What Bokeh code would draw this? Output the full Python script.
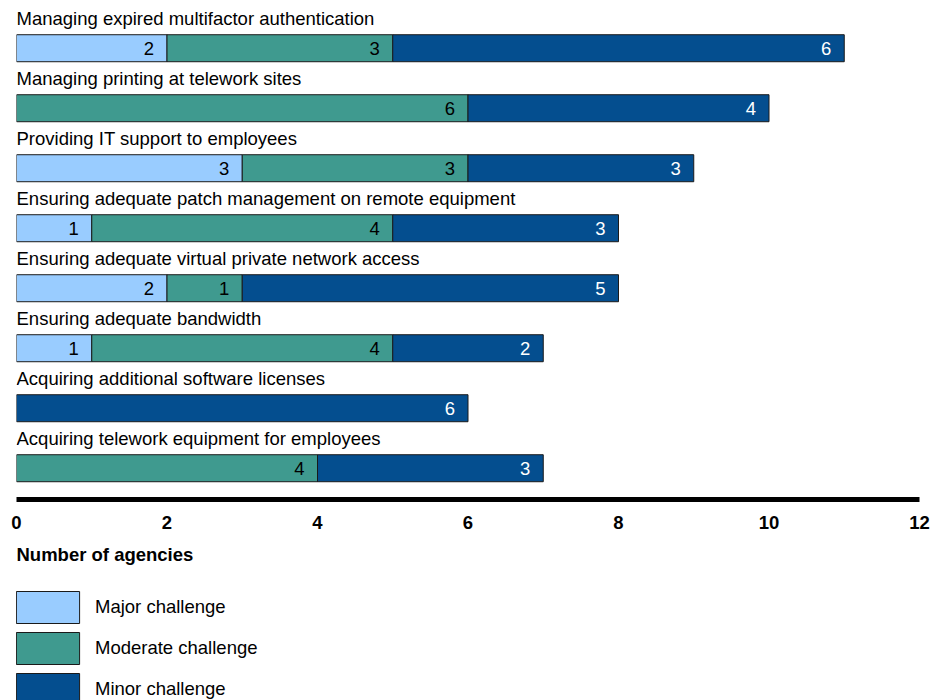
import numpy as np
from bokeh.plotting import figure
from bokeh.layouts import column
from bokeh.models import ColumnDataSource, Range1d, FixedTicker, Legend, LegendItem
from bokeh.core.properties import value
from bokeh.embed import file_html
from bokeh.resources import INLINE

# ---------------- data ----------------
categories = [
    "Managing expired multifactor authentication",
    "Managing printing at telework sites",
    "Providing IT support to employees",
    "Ensuring adequate patch management on remote equipment",
    "Ensuring adequate virtual private network access",
    "Ensuring adequate bandwidth",
    "Acquiring additional software licenses",
    "Acquiring telework equipment for employees",
]
major = [2, 0, 3, 1, 2, 1, 0, 0]
moderate = [3, 6, 3, 4, 1, 4, 0, 4]
minor = [6, 4, 3, 3, 5, 2, 6, 3]
series_names = ["Major challenge", "Moderate challenge", "Minor challenge"]
x_ticks = [0, 2, 4, 6, 8, 10, 12]
x_title = "Number of agencies"

# ---------------- style ----------------
colors = ["#99CCFF", "#3F9A8F", "#044E8F"]
value_colors = ["#000000", "#000000", "#FFFFFF"]
OUTLINE = "#1a1a1a"
FONT = "Liberation Sans"
FS = "18.5px"
PAGE_W = 941
PAGE_H = 700
ROW_PX = 60.0
FRAME_W = 903
FRAME_H = 491
TOP_PAD = 0.662          # rows above first bar centre
MAIN_H = 531             # height of the bar figure incl. its axis panel
TITLE_Y = 554            # page y of the axis title

n = len(categories)
y_top = -TOP_PAD
y_bottom = y_top + FRAME_H / ROW_PX

p = figure(
    frame_width=FRAME_W, frame_height=FRAME_H,
    x_range=Range1d(0, max(x_ticks)),
    y_range=Range1d(start=y_bottom, end=y_top),
    output_backend="svg", toolbar_location=None,
    y_axis_location=None,
    min_border_left=16, min_border_right=PAGE_W - 16 - FRAME_W,
    min_border_top=8, min_border_bottom=0,
    outline_line_color=None,
)
p.xgrid.visible = False
p.ygrid.visible = False

ax = p.xaxis[0]
ax.ticker = FixedTicker(ticks=x_ticks)
ax.axis_line_width = 5
ax.axis_line_color = "#000000"
ax.major_tick_line_color = None
ax.minor_tick_line_color = None
ax.major_tick_out = 0
ax.major_tick_in = 0
ax.minor_tick_out = 0
ax.minor_tick_in = 0
ax.major_label_standoff = 16
ax.major_label_text_font = FONT
ax.major_label_text_font_size = FS
ax.major_label_text_font_style = "bold"
ax.major_label_text_color = "#000000"

# stacked bars
lefts = [0] * n
for name, vals, col, vcol in zip(series_names, [major, moderate, minor], colors, value_colors):
    idx = [i for i in range(n) if vals[i] > 0]
    src = ColumnDataSource(dict(
        y=idx,
        left=[lefts[i] for i in idx],
        right=[lefts[i] + vals[i] for i in idx],
        label=[str(vals[i]) for i in idx],
    ))
    p.hbar(y="y", left="left", right="right", height=0.45, source=src,
           fill_color=col, line_color=OUTLINE, line_width=1)
    p.text(x="right", y="y", text="label", source=src,
           text_align="right", text_baseline="middle", x_offset=-13,
           text_color=vcol, text_font=value(FONT), text_font_size=FS)
    for i in range(n):
        lefts[i] += vals[i]

# category labels above each bar
cat_src = ColumnDataSource(dict(x=[0] * n, y=list(range(n)), text=categories))
p.text(x="x", y="y", text="text", source=cat_src,
       text_align="left", text_baseline="middle", y_offset=-29.5,
       text_color="#000000", text_font=value(FONT), text_font_size=FS)

# ---------------- axis title + legend strip ----------------
# y of this strip is measured in page pixels (top = MAIN_H, bottom = PAGE_H)
LEG_H = PAGE_H - MAIN_H
lp = figure(
    width=PAGE_W, height=LEG_H,
    x_range=p.x_range, y_range=Range1d(start=PAGE_H, end=MAIN_H),
    output_backend="svg", toolbar_location=None,
    x_axis_location=None, y_axis_location=None,
    min_border_left=16, min_border_right=PAGE_W - 16 - FRAME_W,
    min_border_top=0, min_border_bottom=0,
    outline_line_color=None,
)
lp.xgrid.visible = False
lp.ygrid.visible = False

# axis title, left aligned with the x-axis origin
lp.text(x=[min(x_ticks)], y=[TITLE_Y], text=[x_title], text_align="left",
        text_baseline="middle", text_color="#000000",
        text_font=value(FONT), text_font_size=FS, text_font_style="bold")

# legend swatches: proxy renderers with no drawable geometry (NaN)
proxy = ColumnDataSource(dict(y=np.array([np.nan]), left=np.array([np.nan]),
                              right=np.array([np.nan])))
leg_renderers = [
    lp.hbar(y="y", left="left", right="right", height=0.45, source=proxy,
            fill_color=col, line_color=OUTLINE, line_width=1)
    for col in colors
]
legend = Legend(
    items=[LegendItem(label=nm, renderers=[r]) for nm, r in zip(series_names, leg_renderers)],
    location=(-8, -9), orientation="vertical",
    glyph_width=79, glyph_height=40, spacing=1, padding=0, margin=0,
    label_standoff=8, label_text_font=FONT, label_text_font_size=FS,
    label_text_color="#000000",
    border_line_color=None, background_fill_alpha=0,
)
lp.add_layout(legend)

layout = column(p, lp, spacing=0)
open("out.html", "w").write(file_html(layout, INLINE))
